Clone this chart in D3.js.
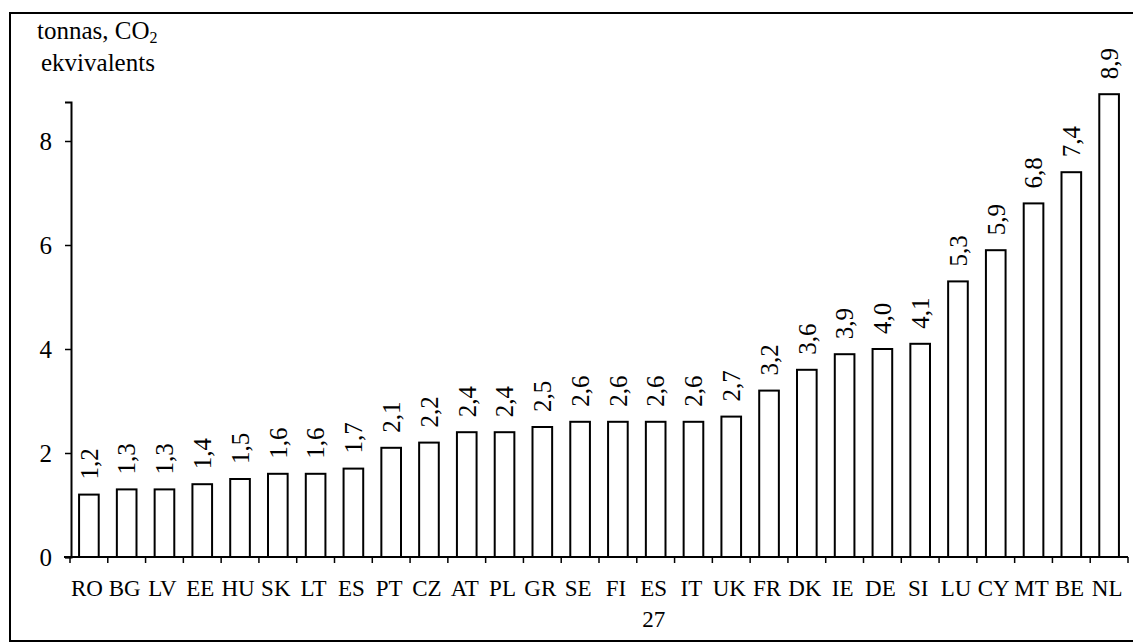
<!DOCTYPE html>
<html>
<head>
<meta charset="utf-8">
<script src="https://cdn.jsdelivr.net/npm/d3@7"></script>
<style>
  body { margin: 0; background: #fff; }
  svg text { font-family: "Liberation Serif", "DejaVu Serif", serif !important; fill: #000; }
</style>
</head>
<body>
<div id="chart"></div>
<script>
// country codes (Latvian), "ES 27" is split on two lines
const countries = ["RO", "BG", "LV", "EE", "HU", "SK", "LT", "ES", "PT", "CZ", "AT", "PL", "GR", "SE",
  "FI", "ES 27", "IT", "UK", "FR", "DK", "IE", "DE", "SI", "LU", "CY", "MT", "BE", "NL"];
const values = [1.2, 1.3, 1.3, 1.4, 1.5, 1.6, 1.6, 1.7, 2.1, 2.2, 2.4, 2.4, 2.5, 2.6,
  2.6, 2.6, 2.6, 2.7, 3.2, 3.6, 3.9, 4.0, 4.1, 5.3, 5.9, 6.8, 7.4, 8.9];
const yTicks = [0, 2, 4, 6, 8];

const svgWidth = 1133;
const svgHeight = 643;
const serif = "Liberation Serif";

const svg = d3.select("#chart")
  .append("svg")
  .attr("width", svgWidth)
  .attr("height", svgHeight)
  .attr("font-family", serif);

// frame round the whole chart
svg.append("rect")
  .attr("x", 10)
  .attr("y", 13)
  .attr("width", 1132)
  .attr("height", 628)
  .attr("fill", "none")
  .attr("stroke", "#000")
  .attr("stroke-width", 2);

const x0 = 70, x1 = 1128;
const yBase = 557;

const x = d3.scaleBand()
  .domain(countries)
  .range([x0, x1])
  .paddingInner(0.48)
  .paddingOuter(0.24);

const y = d3.scaleLinear()
  .domain([0, 8.75])
  .range([yBase, 102]);

// bars
svg.selectAll("rect.bar")
  .data(values)
  .enter()
  .append("rect")
  .attr("class", "bar")
  .attr("x", (d, i) => x(countries[i]))
  .attr("y", d => y(d))
  .attr("width", x.bandwidth())
  .attr("height", d => yBase - y(d))
  .attr("fill", "#fff")
  .attr("stroke", "#000")
  .attr("stroke-width", 2);

// value labels, rotated
svg.selectAll("text.val")
  .data(values)
  .enter()
  .append("text")
  .attr("class", "val")
  .attr("transform", (d, i) =>
    `translate(${x(countries[i]) + x.bandwidth() / 2}, ${y(d) - 15}) rotate(-90)`)
  .attr("dy", "0.35em")
  .attr("font-size", 25)
  .text(d => d.toFixed(1).replace(".", ","));

// y axis
const leftAxis = d3.axisLeft(y)
  .tickValues(yTicks)
  .tickSize(6)
  .tickPadding(13)
  .tickFormat(d3.format("d"));

const yAxisG = svg.append("g")
  .attr("transform", `translate(${x0 + 1}, 0)`)
  .call(leftAxis)
  .attr("font-family", serif);
yAxisG.select(".domain").attr("stroke-width", 2);
yAxisG.selectAll(".tick line").attr("stroke-width", 1.5);
yAxisG.selectAll(".tick text")
  .attr("font-size", 25);

// x axis baseline with ticks between bars
svg.append("line")
  .attr("x1", x0 - 6)
  .attr("x2", x1)
  .attr("y1", yBase)
  .attr("y2", yBase)
  .attr("stroke", "#000")
  .attr("stroke-width", 2);

const boundaries = countries.map(c => x(c) - x.step() * x.paddingInner() / 2)
  .concat([x1]);
svg.selectAll("line.xtick")
  .data(boundaries)
  .enter()
  .append("line")
  .attr("class", "xtick")
  .attr("x1", d => d)
  .attr("x2", d => d)
  .attr("y1", yBase)
  .attr("y2", yBase + 6)
  .attr("stroke", "#000")
  .attr("stroke-width", 1.5);

// category labels
const xLabels = svg.selectAll("text.cat")
  .data(countries)
  .enter()
  .append("text")
  .attr("class", "cat")
  .attr("text-anchor", "middle")
  .attr("font-size", 23)
  .attr("x", d => x(d) + x.bandwidth() / 2 - 2)
  .attr("y", 596);

xLabels.each(function(d) {
  const parts = d.split(" ");
  const t = d3.select(this);
  parts.forEach((p, k) => {
    t.append("tspan")
      .attr("x", t.attr("x"))
      .attr("dy", k === 0 ? 0 : 31)
      .text(p);
  });
});

// y axis title
const title = svg.append("text")
  .attr("x", 37)
  .attr("y", 39)
  .attr("font-size", 25);
title.append("tspan").text("tonnas, CO");
title.append("tspan").attr("font-size", 16).attr("dy", 4).text("2");
svg.append("text")
  .attr("x", 41)
  .attr("y", 71)
  .attr("font-size", 25)
  .text("ekvivalents");
</script>
</body>
</html>
